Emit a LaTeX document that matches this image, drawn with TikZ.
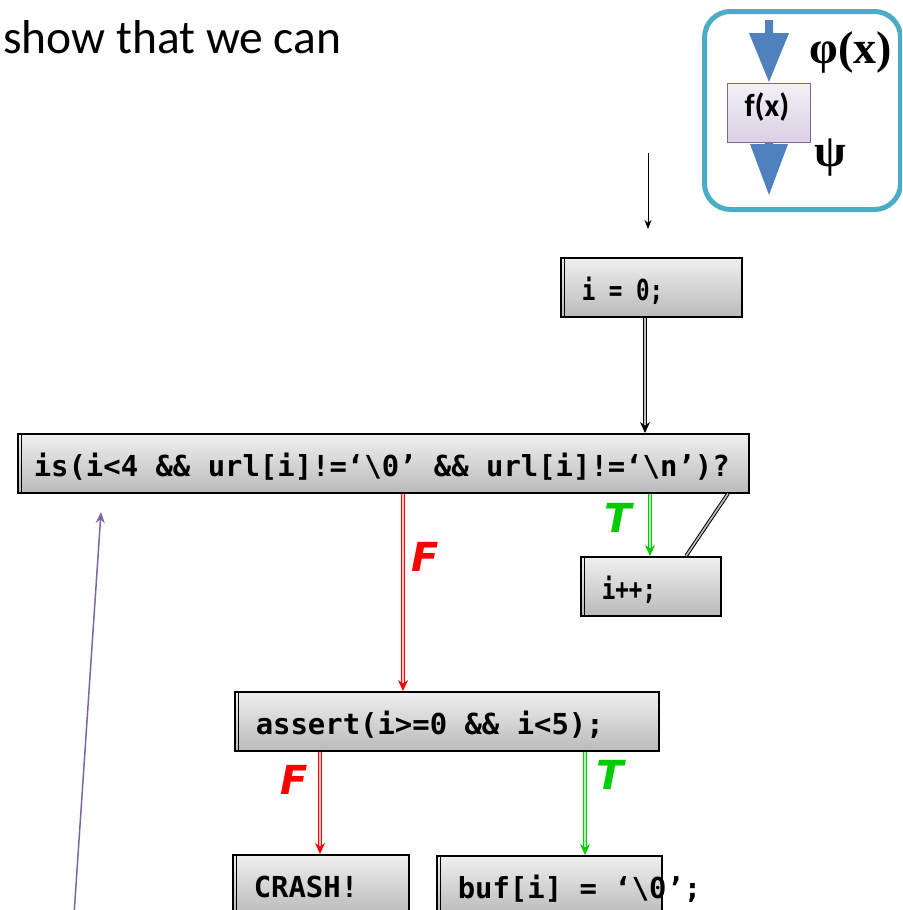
\documentclass[tikz,border=0pt]{standalone}
\usepackage{fontspec}
\usepackage{graphicx}
\setmainfont{Carlito}
\setmonofont{DejaVu Sans Mono}
\newfontfamily\labelfont{DejaVu Sans}
\newfontfamily\greekfont{Liberation Serif}
\usetikzlibrary{arrows.meta}

\definecolor{legendteal}{HTML}{4BACC6}
\definecolor{flowblue}{HTML}{4F81BD}
\definecolor{boxpurple}{HTML}{8064A2}
\definecolor{truegreen}{HTML}{00CC00}
\definecolor{falsered}{HTML}{FF0000}

\newcommand{\codesize}{\fontsize{28.9}{32}\selectfont}
\newcommand{\narrowcode}[1]{\scalebox{0.78}[1]{#1}}
% one full character cell of blank space in the code font
\newcommand{\cspace}{\hspace*{0.602em}}

\tikzset{
  codebox/.style={draw=black, line width=1.6pt, anchor=north west,
    top color=black!6, bottom color=black!27,
    inner ysep=4pt, text height=39pt, text depth=12pt,
    inner xsep=21pt, align=left,
    font=\ttfamily\bfseries\codesize,
    path picture={\draw[line width=0.9pt]
      ([xshift=4pt]path picture bounding box.north west) --
      ([xshift=4pt]path picture bounding box.south west);}},
  plainarrow/.style={draw=black, line width=1pt, -{Stealth[length=9pt,width=7pt]}},
  backedge/.style={draw=black, line width=1pt, double=black!25, double distance=1.6pt},
  dblarrow/.style={draw=black, line width=1pt, double=black!25, double distance=1.6pt,
    -{Stealth[length=11pt,width=10pt]}},
  trueedge/.style={draw=truegreen, line width=1pt, double=truegreen!30, double distance=1.6pt,
    -{Stealth[length=11pt,width=10pt]}},
  falseedge/.style={draw=falsered, line width=1pt, double=falsered!25, double distance=1.6pt,
    -{Stealth[length=11pt,width=10pt]}},
  tflabel/.style={font=\labelfont\bfseries\itshape\fontsize{40}{40}\selectfont, inner sep=0pt},
  bigarrow/.style={fill=flowblue, draw=none},
  greeklabel/.style={font=\greekfont\bfseries\fontsize{46}{46}\selectfont, inner sep=0pt}
}

\begin{document}
\begin{tikzpicture}[x=1pt, y=-1pt]
\useasboundingbox (0,0) rectangle (902,910);
\clip (0,0) rectangle (902,910);

% heading text
\node[anchor=base west, inner sep=0pt, font=\fontsize{47.5}{48}\selectfont] (heading) at (3,53) {show that we can};

% legend: a statement between its pre- and postcondition
\node[draw=legendteal, line width=5pt, rounded corners=26pt, minimum width=196pt, minimum height=198pt,
  anchor=north west] (legend) at (702,9) {};
\fill[bigarrow] (765,20) -- (773,20) -- (773,33) -- (789,33) -- (769,82) -- (749,33) -- (765,33) -- cycle;
\fill[bigarrow] (765,141) -- (773,141) -- (773,144) -- (788,144) -- (769,195) -- (750,144) -- (765,144) -- cycle;
\node[draw=boxpurple, line width=1.4pt, top color=boxpurple!10, bottom color=boxpurple!30,
  minimum width=83pt, minimum height=59pt, anchor=north west, inner sep=0pt] (fx) at (727,83) {};
\node[font=\rmfamily\bfseries\fontsize{32}{32}\selectfont, inner sep=0pt] (fxtext) at (767,107) {f(x)};
\node[greeklabel] (pre) at (851,52) {φ(x)};
\node[greeklabel] (post) at (830,158) {ψ};

% program statements
\node[codebox, text width=139pt] (init) at (560,257) {\narrowcode{i\cspace=\cspace0;}};
\node[codebox, inner xsep=16pt, text width=699pt] (cond) at (17,433)
  {\mbox{is(i<4\cspace\&\&\cspace url[i]!=‘\textbackslash 0’\cspace\&\&\cspace url[i]!=‘\textbackslash n’)?}};
\node[codebox, text width=98pt] (inc) at (580,556) {\narrowcode{i++;}};
\node[codebox, text width=382pt] (assert) at (234,691) {\mbox{assert(i>=0\cspace\&\&\cspace i<5);}};
\node[codebox, text width=134pt] (crash) at (232,854) {CRASH!};
\node[codebox, text width=183pt] (buf) at (436,855) {\mbox{buf[i]\cspace=\cspace‘\textbackslash 0’;}};

% entry arrow
\coordinate (entry) at (648,153);
\coordinate (entryend) at (648,229);
\draw[plainarrow] (entry) -- (entryend);

% control flow
\draw[dblarrow] ([xshift=85pt]init.south west) -- ([xshift=628pt]cond.north west);
\draw[trueedge] ([xshift=633pt]cond.south west) -- ([xshift=70pt]inc.north west);
\draw[backedge] ([xshift=106pt]inc.north west) -- ([xshift=711pt]cond.south west);
\draw[falseedge] ([xshift=386pt]cond.south west) -- ([xshift=169pt]assert.north west);
\draw[falseedge] ([xshift=86pt]assert.south west) -- ([xshift=88pt]crash.north west);
\draw[trueedge] ([xshift=351pt]assert.south west) -- ([xshift=149pt]buf.north west);

% branch labels
\node[tflabel, text=truegreen] (t1) at (618,518) {T};
\node[tflabel, text=falsered] (f1) at (425,557) {F};
\node[tflabel, text=falsered] (f2) at (294,780) {F};
\node[tflabel, text=truegreen] (t2) at (610,775) {T};

% pointer back up to the loop condition
\coordinate (ptrfoot) at (74,915);
\coordinate (ptrtip) at (101,512);
\draw[draw=boxpurple, line width=1.5pt, -{Stealth[length=11pt,width=9pt]}] (ptrfoot) -- (ptrtip);
\end{tikzpicture}
\end{document}
